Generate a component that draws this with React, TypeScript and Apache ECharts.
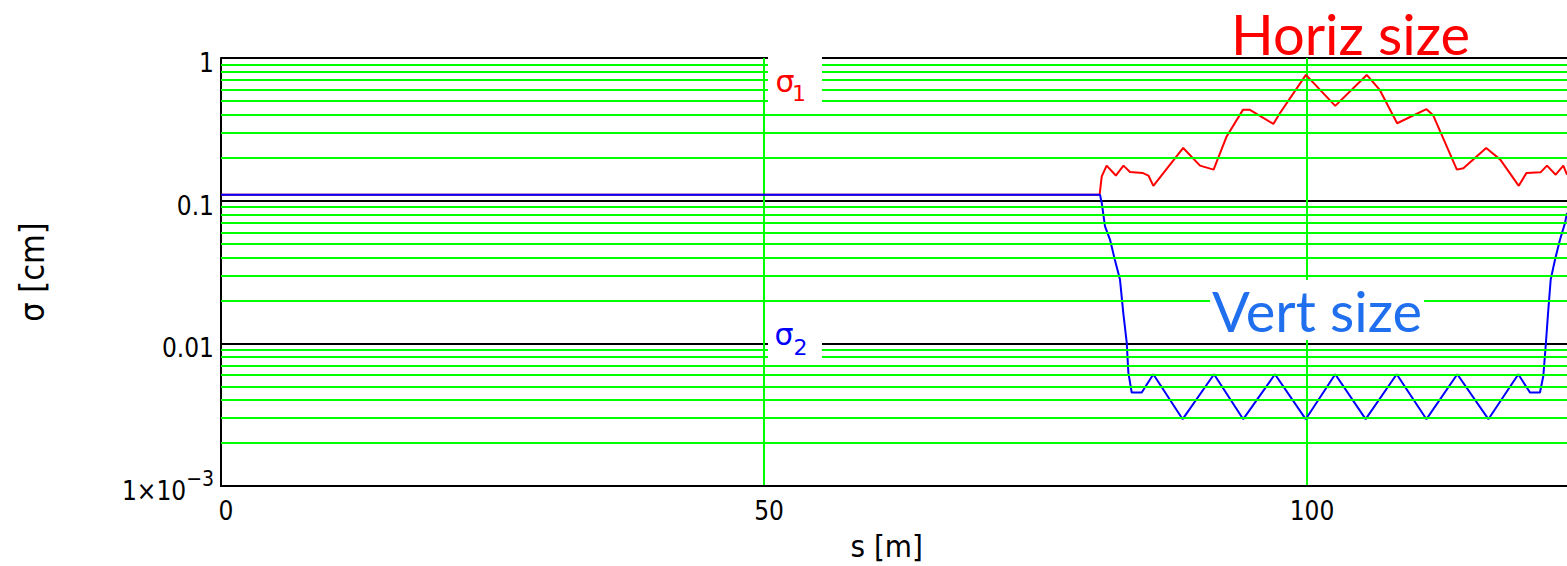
import React, { useEffect, useRef } from "react";
import * as echarts from "echarts";

// ---- data ----
const xTickValues = [0, 50, 100];
const yDecades = [0.001, 0.01, 0.1, 1];
const minorGridValues = [
  0.002, 0.003, 0.004, 0.005, 0.006, 0.007, 0.008, 0.009,
  0.02, 0.03, 0.04, 0.05, 0.06, 0.07, 0.08, 0.09,
  0.2, 0.3, 0.4, 0.5, 0.6, 0.7, 0.8, 0.9,
];

// sigma_1 : horizontal size [cm] vs s [m]
const horizS = [
  0, 80.9, 81.1, 81.55, 82.4, 83.1, 83.7, 84.9, 85.4, 85.85, 88.6, 90.15, 91.4,
  92.6, 94.1, 94.75, 96.9, 97.5, 99.9, 102.6, 105.5, 106.7, 108.3, 111.0, 111.6,
  113.8, 114.4, 116.5, 117.8, 119.5, 120.2, 121.5, 122.1, 122.9, 123.6, 123.94,
];
const horizSigma = [
  0.11, 0.11, 0.148, 0.176, 0.15, 0.176, 0.159, 0.156, 0.15, 0.127, 0.234, 0.176, 0.165,
  0.282, 0.433, 0.433, 0.345, 0.41, 0.761, 0.462, 0.761, 0.597, 0.349, 0.438, 0.399,
  0.165, 0.169, 0.234, 0.194, 0.127, 0.156, 0.158, 0.176, 0.152, 0.176, 0.152,
];

// sigma_2 : vertical size [cm] vs s [m]
const vertS = [
  0, 80.94, 81.1, 81.4, 81.86, 82.3, 82.78, 83.08, 83.4, 83.55, 83.86, 84.78, 85.85,
  88.55, 91.44, 94.13, 97.05, 99.88, 102.6, 105.4, 108.26, 111.0, 113.84, 116.7,
  119.46, 120.53, 121.45, 121.76, 122.0, 122.2, 122.44, 122.84, 123.3, 123.76, 123.94,
];
const vertSigma = [
  0.11, 0.11, 0.0964, 0.066, 0.0534, 0.0387, 0.028, 0.0164, 0.0101, 0.00624, 0.00452, 0.00452, 0.00607,
  0.00294, 0.00607, 0.00294, 0.00607, 0.00294, 0.00607, 0.00294, 0.00607, 0.00294, 0.00607, 0.00294,
  0.00607, 0.00452, 0.00452, 0.0059, 0.0101, 0.0164, 0.028, 0.0387, 0.0534, 0.0698, 0.082,
];

const AXIS_FONT = "'DejaVu Sans Condensed', 'DejaVu Sans', sans-serif";

function yLabel(v: number): string {
  const e = Math.round(Math.log10(v));
  if (e === 0) return "1";
  if (e === -1) return "0.1";
  if (e === -2) return "0.01";
  if (e === -3) return "1×10{sup|−3}";
  return "";
}

export default function App() {
  const ref = useRef<HTMLDivElement>(null);

  useEffect(() => {
    if (!ref.current) return;
    const chart = echarts.init(ref.current, undefined, { renderer: "svg" });

    const horiz = horizS.map((s, i) => [s, horizSigma[i]]);
    const vert = vertS.map((s, i) => [s, vertSigma[i]]);

    chart.setOption({
      animation: false,
      backgroundColor: "#ffffff",
      grid: { left: 221, top: 58, right: 21.5, bottom: 79, containLabel: false },
      xAxis: {
        type: "value",
        min: 0,
        max: 125,
        interval: 50,
        name: "s [m]",
        nameLocation: "middle",
        nameGap: 44,
        nameTextStyle: {
          fontFamily: AXIS_FONT,
          fontSize: 31,
          color: "#000",
          padding: [0, 26, 0, 0],
        },
        axisLine: { show: true, onZero: false, lineStyle: { color: "#000", width: 2 } },
        axisTick: { show: false },
        axisLabel: {
          formatter: (v: number) => (xTickValues.includes(v) ? String(v) : ""),
          fontFamily: AXIS_FONT,
          fontSize: 26,
          color: "#000",
          margin: 12,
          padding: [0, 0, 0, 10],
        },
        splitLine: {
          show: true,
          showMinLine: false,
          showMaxLine: false,
          lineStyle: { color: "#00ff00", width: 2 },
        },
      },
      yAxis: {
        type: "log",
        logBase: 10,
        min: yDecades[0],
        max: yDecades[yDecades.length - 1],
        name: "σ [cm]",
        nameLocation: "middle",
        nameGap: 172,
        nameTextStyle: { fontFamily: AXIS_FONT, fontSize: 34, color: "#000" },
        axisLine: { show: true, onZero: false, lineStyle: { color: "#000", width: 2 } },
        axisTick: { show: false },
        axisLabel: {
          formatter: yLabel,
          fontFamily: AXIS_FONT,
          fontSize: 26,
          color: "#000",
          margin: 7,
          padding: [10, 0, 0, 0],
          rich: {
            sup: { fontFamily: AXIS_FONT, fontSize: 21, color: "#000", verticalAlign: "top", lineHeight: 46 },
          },
        },
        splitLine: { show: true, lineStyle: { color: "#000", width: 2 } },
      },
      series: [
        {
          type: "line",
          name: "grid",
          data: [[0, 0.5]],
          symbol: "none",
          lineStyle: { opacity: 0 },
          silent: true,
          z: 1,
          markLine: {
            silent: true,
            precision: 8,
            symbol: ["none", "none"],
            label: { show: false },
            lineStyle: { color: "#00ff00", width: 2, type: "solid" },
            emphasis: { disabled: true },
            data: minorGridValues.map((v) => ({ yAxis: v })),
          },
        },
        {
          type: "line",
          name: "σ1",
          data: horiz,
          symbol: "none",
          lineStyle: { color: "#ff0000", width: 2 },
          z: 3,
        },
        {
          type: "line",
          name: "σ2",
          data: vert,
          symbol: "none",
          lineStyle: { color: "#0000ff", width: 2 },
          z: 4,
        },
      ],
      graphic: [
        { type: "rect", shape: { x: 768, y: 55, width: 54, height: 52 }, style: { fill: "#fff" }, z: 100 },
        { type: "rect", shape: { x: 768, y: 324, width: 54, height: 39 }, style: { fill: "#fff" }, z: 100 },
        {
          type: "text", z: 101,
          style: { x: 785, y: 81.6, text: "σ", font: "30px 'DejaVu Sans'", fill: "#ff0000", textAlign: "center", textVerticalAlign: "middle" },
        },
        {
          type: "text", z: 101,
          style: { x: 799, y: 93, text: "1", font: "22px 'DejaVu Sans'", fill: "#ff0000", textAlign: "center", textVerticalAlign: "middle" },
        },
        {
          type: "text", z: 101,
          style: { x: 784, y: 334.6, text: "σ", font: "30px 'DejaVu Sans'", fill: "#0000ff", textAlign: "center", textVerticalAlign: "middle" },
        },
        {
          type: "text", z: 101,
          style: { x: 800.5, y: 347, text: "2", font: "22px 'DejaVu Sans'", fill: "#0000ff", textAlign: "center", textVerticalAlign: "middle" },
        },
        {
          type: "text", z: 101,
          style: { x: 1231, y: 33, text: "Horiz size", font: "56px Lato", fill: "#ff0000", textAlign: "left", textVerticalAlign: "middle" },
        },
        {
          type: "text", z: 101,
          style: {
            x: 1210, y: 310, text: "Vert size", font: "56px Lato", fill: "#1f6fef",
            textAlign: "left", textVerticalAlign: "middle",
            backgroundColor: "#fff", padding: [2, 2, 2, 2],
          },
        },
      ],
    });

    return () => chart.dispose();
  }, []);

  return (
    <div
      style={{
        position: "fixed",
        left: 0,
        top: 0,
        width: 1567,
        height: 566,
        overflow: "hidden",
        background: "#fff",
      }}
    >
      <div ref={ref} style={{ width: 1600, height: 566 }} />
    </div>
  );
}
